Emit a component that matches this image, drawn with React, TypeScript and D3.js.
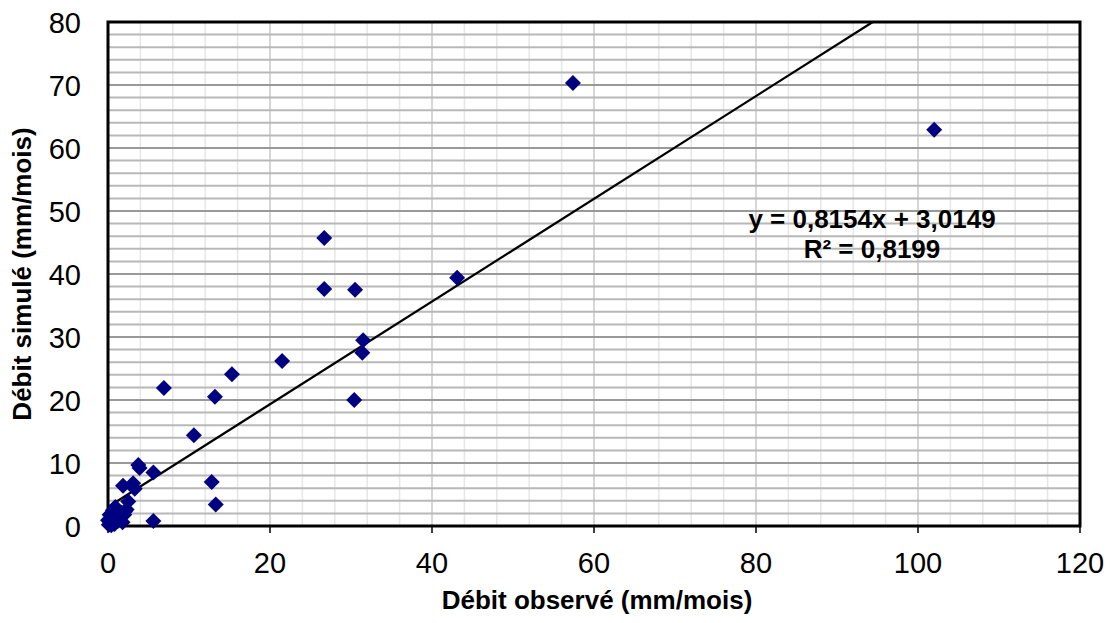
import React from "react";
import * as d3 from "d3";

const observed = [57.4, 102.0, 26.7, 43.1, 26.7, 30.5, 31.5, 31.4, 21.5, 15.3, 6.9, 13.2, 30.4, 10.6,
  3.74, 3.9, 1.85, 3.1, 3.3, 5.6, 12.8, 13.3, 5.6, 2.5, 2.1, 1.7,
  0.1, 0.3, 0.5, 0.8, 1.0, 0.2, 1.2, 0.6, 1.5, 2.0, 0.4, 1.8, 2.3, 0.9, 1.3, 0.0, 0.7];
const simulated = [70.3, 62.9, 45.7, 39.4, 37.6, 37.5, 29.5, 27.5, 26.2, 24.1, 21.9, 20.5, 20.0, 14.4,
  9.7, 9.2, 6.4, 6.8, 5.9, 8.5, 7.0, 3.4, 0.8, 3.9, 2.3, 2.1,
  0.2, 0.5, 1.0, 0.3, 1.5, 1.8, 0.8, 2.5, 1.2, 1.8, 0.1, 0.6, 2.6, 3.0, 2.0, 0.9, 0.4];
const xTicks = [0, 20, 40, 60, 80, 100, 120];
const yTicks = [0, 10, 20, 30, 40, 50, 60, 70, 80];
const slope = 0.8154;
const intercept = 3.0149;
const eqText = "y = 0,8154x + 3,0149";
const r2Text = "R² = 0,8199";
const xTitle = "Débit observé (mm/mois)";
const yTitle = "Débit simulé (mm/mois)";

export default function App() {
  const W = 1115, H = 623;
  const L = 108, R = 1080, T = 22, B = 526;
  const x = d3.scaleLinear().domain([0, 120]).range([L, R]);
  const y = d3.scaleLinear().domain([0, 80]).range([B, T]);
  const font = "Liberation Sans, Arial, sans-serif";
  const hMinor = d3.range(0, 81, 2);
  const vMinor = d3.range(0, 121, 4);
  const xEnd = (80 - intercept) / slope;
  const line = d3.line<[number, number]>().x(d => x(d[0])).y(d => y(d[1]));
  const dsz = 8;
  return (
    <svg width={W} height={H} style={{ position: "absolute", left: 0, top: 0, background: "#fff" }}>
      <rect x={0} y={0} width={W} height={H} fill="#fff" />
      {vMinor.map(v => (
        <line key={"v" + v} x1={x(v)} x2={x(v)} y1={T} y2={B}
          stroke={v % 20 === 0 ? "#c8c8c8" : "#e6e6e6"} strokeWidth={1.5} />
      ))}
      {hMinor.map(v => (
        <line key={"h" + v} x1={L} x2={R} y1={y(v)} y2={y(v)}
          stroke={v % 10 === 0 ? "#999" : "#b8b8b8"} strokeWidth={2} />
      ))}
      <rect x={L} y={T} width={R - L} height={B - T} fill="none" stroke="#000" strokeWidth={3} />
      {xTicks.map(v => (
        <line key={"t" + v} x1={x(v)} x2={x(v)} y1={B} y2={B + 7} stroke="#000" strokeWidth={1.5} />
      ))}
      {xTicks.map(v => (
        <text key={"xl" + v} x={x(v)} y={573} textAnchor="middle" fontFamily={font} fontSize={29} fill="#000">{v}</text>
      ))}
      {yTicks.map(v => (
        <text key={"yl" + v} x={81} y={y(v) + 10.5} textAnchor="end" fontFamily={font} fontSize={29} fill="#000">{v}</text>
      ))}
      <path d={line([[0, intercept], [xEnd, 80]]) || ""} stroke="#000" strokeWidth={2.2} fill="none" />
      {observed.map((o, i) => {
        const cx = x(o), cy = y(simulated[i]);
        return <path key={"p" + i} d={`M${cx},${cy - dsz}L${cx + dsz},${cy}L${cx},${cy + dsz}L${cx - dsz},${cy}Z`} fill="#000080" />;
      })}
      <text x={872} y={228} textAnchor="middle" fontFamily={font} fontSize={26} fontWeight="bold" fill="#000">{eqText}</text>
      <text x={872} y={258} textAnchor="middle" fontFamily={font} fontSize={26} fontWeight="bold" fill="#000">{r2Text}</text>
      <text x={597} y={609} textAnchor="middle" fontFamily={font} fontSize={26} fontWeight="bold" fill="#000">{xTitle}</text>
      <text transform={`translate(31,274) rotate(-90)`} textAnchor="middle" fontFamily={font} fontSize={26} fontWeight="bold" fill="#000">{yTitle}</text>
    </svg>
  );
}
